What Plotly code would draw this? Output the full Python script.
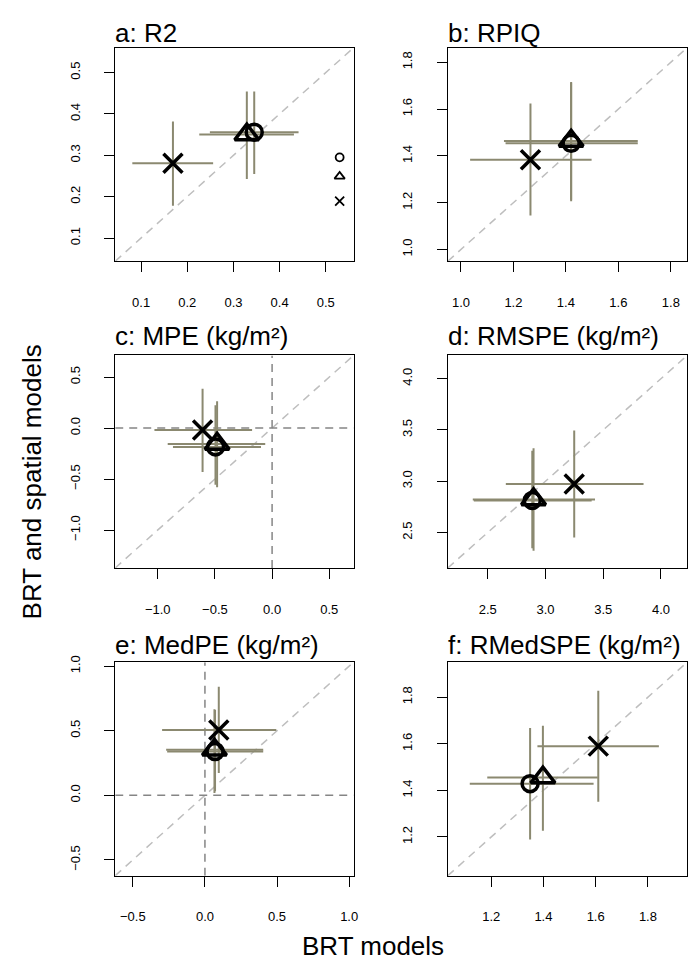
import plotly.graph_objects as go

# ---------------- data ----------------
TITLES = ["a: R2", "b: RPIQ", "c: MPE (kg/m²)", "d: RMSPE (kg/m²)",
          "e: MedPE (kg/m²)", "f: RMedSPE (kg/m²)"]
MODELS = ["circle model", "triangle model", "cross model"]

# BRT models (x): estimate, lower, upper  -- order per panel: circle, triangle, cross
BRT_EST = [[0.345, 0.329, 0.169], [1.420, 1.420, 1.265], [-0.495, -0.481, -0.608],
           [2.886, 2.897, 3.249], [0.070, 0.066, 0.096], [1.349, 1.398, 1.610]]
BRT_LO = [[0.249, 0.226, 0.081], [1.170, 1.164, 1.035], [-0.867, -0.913, -1.029],
          [2.380, 2.371, 2.657], [-0.262, -0.269, -0.297], [1.118, 1.185, 1.377]]
BRT_HI = [[0.441, 0.431, 0.256], [1.674, 1.674, 1.498], [-0.097, -0.060, -0.175],
          [3.400, 3.429, 3.849], [0.404, 0.404, 0.495], [1.592, 1.608, 1.842]]

# BRT and spatial models (y): estimate, lower, upper
SP_EST = [[0.356, 0.350, 0.281], [1.454, 1.464, 1.383], [-0.185, -0.156, -0.019],
          [2.813, 2.823, 2.974], [0.339, 0.352, 0.506], [1.429, 1.455, 1.590]]
SP_LO = [[0.255, 0.243, 0.178], [1.206, 1.213, 1.145], [-0.555, -0.581, -0.432],
         [2.348, 2.323, 2.452], [0.031, 0.018, 0.172], [1.189, 1.227, 1.351]]
SP_HI = [[0.454, 0.454, 0.382], [1.712, 1.716, 1.624], [0.224, 0.263, 0.386],
         [3.297, 3.323, 3.494], [0.661, 0.666, 0.841], [1.668, 1.678, 1.828]]

# axis ranges (same for x and y in each panel) and tick values
RANGES = [[0.044, 0.560], [0.950, 1.862], [-1.372, 0.712],
          [2.155, 4.226], [-0.622, 1.030], [1.034, 1.950]]
TICKS = [[0.1, 0.2, 0.3, 0.4, 0.5], [1.0, 1.2, 1.4, 1.6, 1.8], [-1.0, -0.5, 0.0, 0.5],
         [2.5, 3.0, 3.5, 4.0], [-0.5, 0.0, 0.5, 1.0], [1.2, 1.4, 1.6, 1.8]]
ZERO_LINES = [False, False, True, False, True, False]

# symbol key drawn inside panel a
KEY_X = [0.530, 0.530, 0.530]
KEY_Y = [0.295, 0.249, 0.189]

# ---------------- style / layout ----------------
W, H = 697, 960
COL_PX = [(108, 348), (443, 684)]
ROW_PX = [(33, 248), (343, 557), (652, 867)]
TITLE_BOTTOM_PX = [35, 340, 652]
FONT = "Liberation Sans, Arial, Helvetica, sans-serif"
BAR_COLOR = "#8B8970"
SYMBOLS = ["circle-open", "triangle-up-open", "x-thin-open"]
SIZES = [16, 21, 19]
KEY_SIZES = [8, 9, 9]

fig = go.Figure()
layout = dict(
    width=W, height=H, autosize=False,
    margin=dict(l=0, r=0, t=0, b=0),
    paper_bgcolor="white", plot_bgcolor="white",
    showlegend=False,
    font=dict(family=FONT, size=13, color="black"),
)
annotations = []

for i in range(6):
    r, c = divmod(i, 2)
    sfx = "" if i == 0 else str(i + 1)
    xa, ya = "x" + sfx, "y" + sfx
    px0, px1 = COL_PX[c]
    py0, py1 = ROW_PX[r]
    common = dict(
        range=RANGES[i], tickvals=TICKS[i], tickformat=".1f",
        showline=True, mirror=True, linecolor="black", linewidth=1.3,
        ticks="outside", ticklen=10, tickwidth=1.3, tickcolor="black",
        showgrid=False, zeroline=False,
        tickfont=dict(family=FONT, size=13, color="black"),
        fixedrange=True,
    )
    layout["xaxis" + sfx] = dict(common, domain=[px0 / W, px1 / W], anchor=ya,
                                 ticklabelstandoff=19)
    layout["yaxis" + sfx] = dict(common, domain=[1 - py1 / H, 1 - py0 / H], anchor=xa,
                                 tickangle=-90, ticklabelstandoff=19)

    # 1:1 line
    fig.add_trace(go.Scatter(x=RANGES[i], y=RANGES[i], mode="lines", xaxis=xa, yaxis=ya,
                             line=dict(color="#BEBEBE", width=1.5, dash="8px,6px"),
                             hoverinfo="skip"))
    if ZERO_LINES[i]:
        fig.add_trace(go.Scatter(x=[0, 0], y=RANGES[i], mode="lines", xaxis=xa, yaxis=ya,
                                 line=dict(color="#858585", width=1.5, dash="8px,6px"),
                                 hoverinfo="skip"))
        fig.add_trace(go.Scatter(x=RANGES[i], y=[0, 0], mode="lines", xaxis=xa, yaxis=ya,
                                 line=dict(color="#858585", width=1.5, dash="8px,6px"),
                                 hoverinfo="skip"))

    xe, ye = BRT_EST[i], SP_EST[i]
    fig.add_trace(go.Scatter(
        x=xe, y=ye, mode="markers", xaxis=xa, yaxis=ya,
        marker=dict(size=1, color="rgba(0,0,0,0)"),
        error_x=dict(type="data", symmetric=False,
                     array=[h - v for h, v in zip(BRT_HI[i], xe)],
                     arrayminus=[v - l for v, l in zip(xe, BRT_LO[i])],
                     width=0, thickness=2, color=BAR_COLOR),
        error_y=dict(type="data", symmetric=False,
                     array=[h - v for h, v in zip(SP_HI[i], ye)],
                     arrayminus=[v - l for v, l in zip(ye, SP_LO[i])],
                     width=0, thickness=2, color=BAR_COLOR),
        hoverinfo="skip"))
    fig.add_trace(go.Scatter(
        x=xe, y=ye, mode="markers", xaxis=xa, yaxis=ya, text=MODELS,
        marker=dict(symbol=SYMBOLS, size=SIZES, color="#000000", opacity=1,
                    line=dict(color="#000000", width=3.5))))

    if i == 0:
        fig.add_trace(go.Scatter(
            x=KEY_X, y=KEY_Y, mode="markers", xaxis=xa, yaxis=ya, text=MODELS,
            marker=dict(symbol=SYMBOLS, size=KEY_SIZES, color="#000000", opacity=1,
                        line=dict(color="#000000", width=1.8))))

    annotations.append(dict(
        text=TITLES[i], xref="paper", yref="paper",
        x=px0 / W - 2 / W, y=1 - TITLE_BOTTOM_PX[r] / H,
        xanchor="left", yanchor="bottom", showarrow=False,
        font=dict(family=FONT, size=26, color="black")))

annotations.append(dict(text="BRT models", xref="paper", yref="paper",
                        x=368 / W, y=5 / H, xanchor="center", yanchor="bottom",
                        showarrow=False, font=dict(family=FONT, size=26, color="black")))
annotations.append(dict(text="BRT and spatial models", xref="paper", yref="paper",
                        x=24 / W, y=1 - 470 / H, xanchor="center", yanchor="middle",
                        textangle=-90, showarrow=False,
                        font=dict(family=FONT, size=26, color="black")))
layout["annotations"] = annotations
fig.update_layout(**layout)
fig.write_html("out.html")
